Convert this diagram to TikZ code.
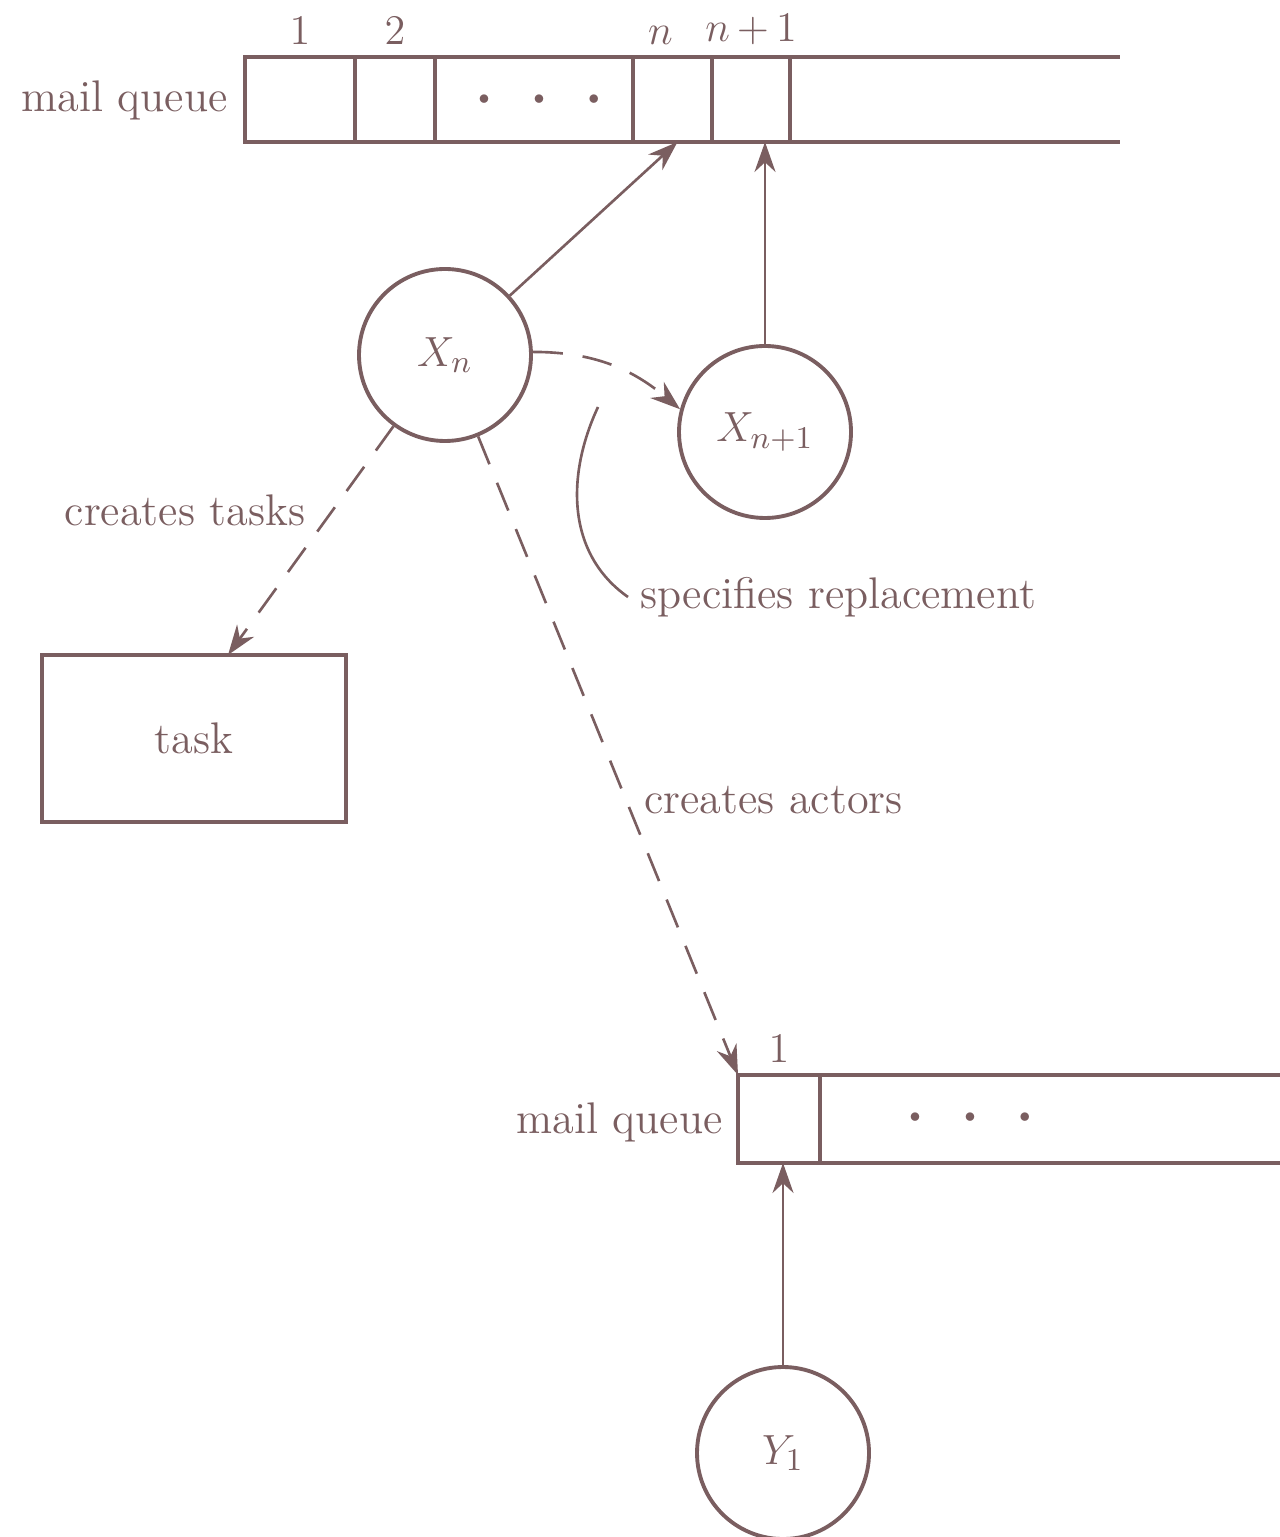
\documentclass[tikz,border=0pt]{standalone}
\usepackage{tikz}
\usetikzlibrary{arrows.meta,shapes}

\begin{document}
\begin{tikzpicture}
				\definecolor{ink}{HTML}{7A5E60}
				\tikzset{
					cell/.style={draw=ink, line width=1.1pt, inner sep=0pt, outer sep=0pt, minimum height=0.85cm},
					actor/.style={circle, draw=ink, line width=1.1pt, inner sep=0pt, minimum size=1.72cm},
					msg/.style={draw=ink, line width=0.75pt, -{Stealth[length=3mm,width=2.1mm]}},
					spawn/.style={msg, dash pattern=on 3mm off 2mm},
					every node/.style={text=ink, font=\fontsize{12.6}{15}\selectfont}
				}
				\newcommand{\qdots}{{\tiny$\bullet$}\hspace{4.2mm}{\tiny$\bullet$}\hspace{4.2mm}{\tiny$\bullet$}}
				\useasboundingbox (0,0) rectangle (12.8,-15.37);
				%% Queues ------
				\node[cell, minimum width=1.10cm, label=above:$1$] (q1) at (3.00,-0.995) {};
				\node[cell, minimum width=0.80cm, label=above:$2$] (q2) at (3.95,-0.995) {};
				\node[cell, minimum width=1.98cm] (qdots) at (5.34,-0.995) {\hspace{0.1cm}\qdots};
				\node[cell, minimum width=0.79cm, label={[xshift=-0.12cm]above:$n$}] (qn) at (6.725,-0.995) {};
				\node[cell, minimum width=0.78cm, label=above:$n\,{+}\,1$] (qn1) at (7.51,-0.995) {};
				\node[anchor=east] (qlabel) at (2.40,-1.00) {mail queue};
				\coordinate (qend) at (11.20,0);
				\draw[ink, line width=1.1pt] (qn1.north east) -- (qn1.north east -| qend) (qn1.south east) -- (qn1.south east -| qend);
				\node[cell, minimum width=0.82cm, minimum height=0.88cm, label=above:$1$] (b1) at (7.79,-11.19) {};
				\node[anchor=east] (blabel) at (7.35,-11.22) {mail queue};
				\node (bdots) at (9.70,-11.17) {\qdots};
				\coordinate (bend) at (12.80,0);
				\draw[ink, line width=1.1pt] (b1.north east) -- (b1.north east -| bend) (b1.south east) -- (b1.south east -| bend);
				%% Actors ------
				\node[actor] (Xn) at (4.45,-3.55) {$X_n$};
				\node[actor] (Xn1) at (7.65,-4.32) {$X_{n+1}$};
				\node[actor] (Y1) at (7.83,-14.53) {$Y_1$};
				\node[cell, minimum width=3.04cm, minimum height=1.67cm] (task) at (1.94,-7.385) {task};
				%% Labels ------
				\node (ctasks) at (1.85,-5.10) {creates tasks};
				\node[anchor=west] (cactors) at (6.32,-8.00) {creates actors};
				\node[anchor=west] (spec) at (6.28,-5.97) {specifies replacement};
				\coordinate (specfrom) at (5.98,-4.07);
				%% Edges ---------
				\draw[msg] (Xn) -- ([xshift=0.05cm]qn.south);
				\draw[msg] (Xn1) -- (Xn1.north |- qn1.south);
				\draw[msg] (Y1) -- (Y1.north |- b1.south);
				\draw[spawn] (Xn.2) to[out=0,in=140] (Xn1.165);
				\draw[spawn] (Xn) -- ([xshift=0.34cm]task.north);
				\draw[spawn] (Xn) -- (b1.north west);
				\draw[ink, line width=0.75pt] (specfrom) to[out=-115,in=145] (spec.west);
			\end{tikzpicture}
\end{document}
